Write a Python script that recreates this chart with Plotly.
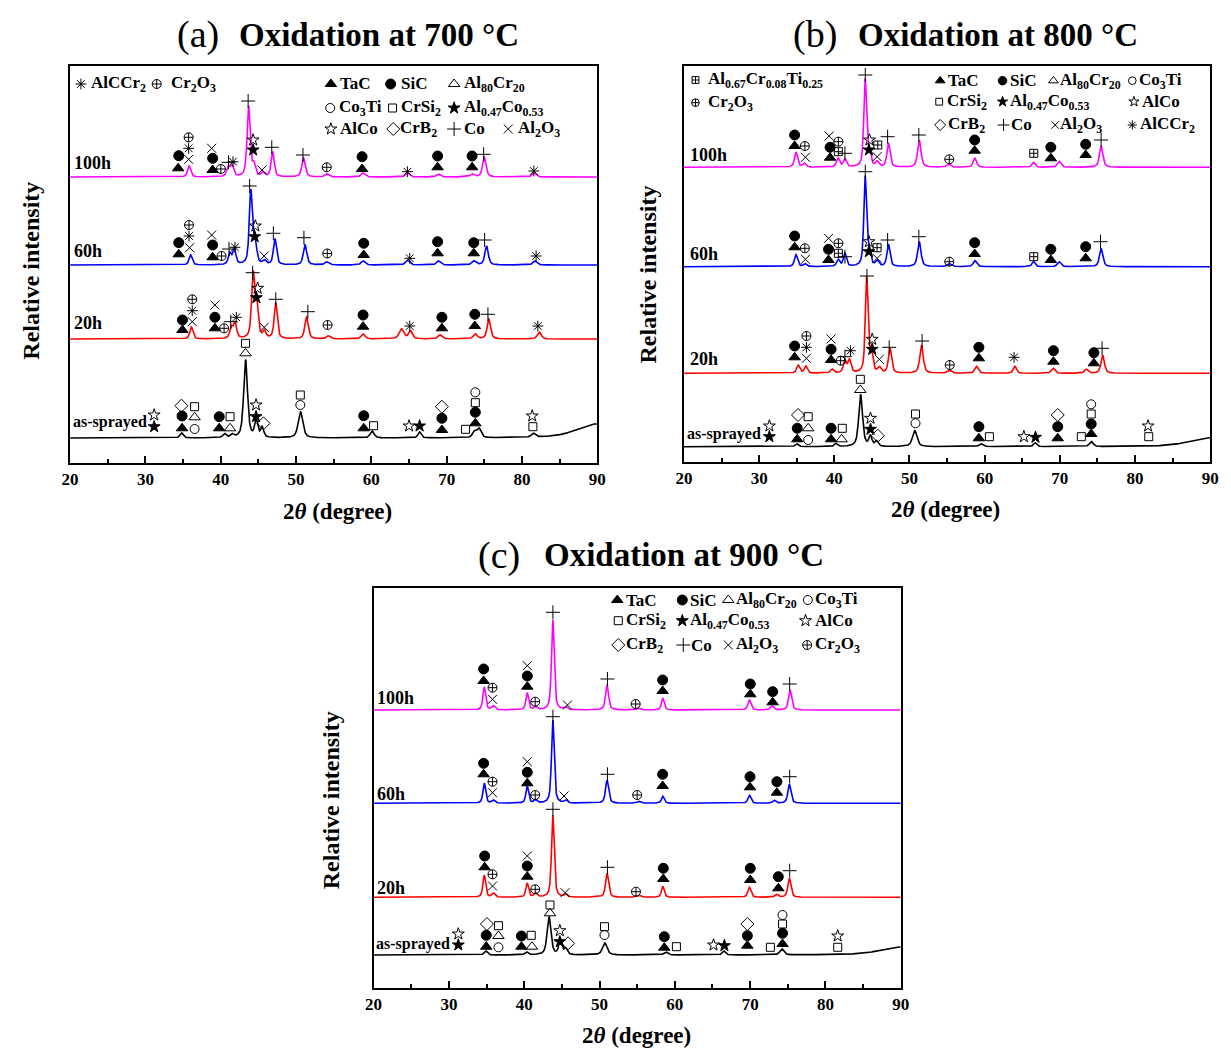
import numpy as np
import plotly.graph_objects as go

FIG_W, FIG_H = 1231, 1048
FONT = "Liberation Serif"

# ---------------- tick labels ----------------
X_TICKS = [20, 30, 40, 50, 60, 70, 80, 90]

# ================= panel (a) 700 °C =================
A_100H_BASE = 286
A_100H_PEAKS = [(35.8, 11, .4), (41.0, 10, .4), (41.5, 11, .4), (43.7, 70, .4), (44.4, 11, .4), (45.6, 4, .4),
                (46.9, 25, .4), (51.0, 19, .45), (54.1, 3, .5), (58.9, 4, .5), (64.8, 4, .5), (68.9, 3, .5),
                (73.4, 3, .5), (75.0, 20, .45), (81.6, 4, .5)]
A_100H_MARKS = [("TaC", 34.35, 294.7), ("SiC", 34.43, 307.3), ("Al2O3", 35.74, 303.7), ("AlCCr2", 35.74, 314.7),
                ("Cr2O3", 35.74, 325.7), ("Al2O3", 38.80, 314.7), ("SiC", 38.93, 304.7), ("TaC", 38.93, 293),
                ("Cr2O3", 40.02, 294), ("Co", 41.03, 300.7), ("AlCCr2", 41.63, 301.3), ("Co", 43.64, 362),
                ("AlCo", 44.30, 323), ("Al47Co53", 44.30, 313), ("Al2O3", 45.47, 293), ("Co", 46.78, 315.7),
                ("Co", 50.92, 308), ("Cr2O3", 54.08, 295.7), ("SiC", 58.77, 306.3), ("TaC", 58.77, 294),
                ("AlCCr2", 64.79, 291.3), ("SiC", 68.80, 307), ("TaC", 68.80, 295.7), ("SiC", 73.38, 307),
                ("TaC", 73.38, 295.7), ("Co", 74.91, 308.7), ("AlCCr2", 81.58, 292)]

A_60H_BASE = 198
A_60H_PEAKS = [(36.0, 10, .4), (41.2, 11, .4), (41.8, 16, .4), (44.0, 74, .4), (44.6, 19, .4), (45.8, 4, .4),
               (47.2, 26, .4), (51.2, 20, .45), (54.1, 3, .5), (58.9, 4, .5), (64.8, 5, .5), (68.9, 4, .5),
               (73.6, 4, .5), (75.3, 19, .45), (81.7, 4, .5)]
A_60H_MARKS = [("SiC", 34.43, 220.3), ("TaC", 34.43, 208.7), ("Al2O3", 35.87, 215.3), ("AlCCr2", 35.79, 227),
               ("Cr2O3", 35.79, 238), ("Al2O3", 38.80, 228), ("SiC", 38.93, 218), ("TaC", 38.93, 205.7),
               ("Cr2O3", 40.11, 207), ("Co", 41.10, 214), ("AlCCr2", 41.89, 215.7), ("Co", 43.84, 277),
               ("AlCo", 44.60, 237), ("Al47Co53", 44.51, 226.3), ("Al2O3", 45.77, 207), ("Co", 46.99, 229.7),
               ("Co", 51.05, 225.3), ("Cr2O3", 54.15, 209.5), ("SiC", 58.99, 219.7), ("TaC", 58.99, 208),
               ("AlCCr2", 65.10, 204.7), ("SiC", 68.80, 221.3), ("TaC", 68.80, 209.7), ("SiC", 73.60, 220.3),
               ("TaC", 73.60, 209.7), ("Co", 75.04, 223), ("AlCCr2", 81.88, 207)]

A_20H_BASE = 124
A_20H_PEAKS = [(36.1, 12, .4), (41.4, 11, .4), (41.9, 16, .4), (44.3, 64, .4), (44.8, 32, .4), (45.8, 7, .4),
               (47.3, 36, .4), (51.4, 22, .45), (54.3, 3, .5), (58.9, 5, .5), (64.0, 10, .6), (65.2, 8, .5),
               (69.1, 4, .5), (73.8, 5, .5), (75.6, 20, .45), (82.3, 7, .5)]
A_20H_MARKS = [("SiC", 34.92, 143), ("TaC", 34.92, 133), ("Al2O3", 36.22, 141.3), ("AlCCr2", 36.22, 152.3),
               ("Cr2O3", 36.22, 163.7), ("Al2O3", 39.23, 158), ("SiC", 39.23, 145.7), ("TaC", 39.23, 134.7),
               ("Cr2O3", 40.45, 134.7), ("Co", 41.33, 141.3), ("AlCCr2", 42.07, 145.7), ("Co", 44.24, 190.3),
               ("AlCo", 44.90, 174.7), ("Al47Co53", 44.73, 165.3), ("Al2O3", 45.77, 135.7), ("Co", 47.31, 163.7),
               ("Co", 51.57, 151.3), ("Cr2O3", 54.19, 138), ("SiC", 58.90, 148), ("TaC", 58.90, 136.3),
               ("AlCCr2", 65.10, 137), ("SiC", 69.37, 145.7), ("TaC", 69.37, 134.7), ("SiC", 73.74, 148.7),
               ("TaC", 73.74, 137), ("Co", 75.48, 148.7), ("AlCCr2", 82.11, 137)]

A_AS_BASE = 25
A_AS_PEAKS = [(34.8, 5, .4), (40.5, 4, .4), (41.5, 3, .4), (43.3, 78, .5), (44.7, 17, .4), (45.5, 10, .4),
              (50.6, 26, .6), (60.1, 7, .5), (66.4, 6, .4), (73.7, 6, .5), (74.3, 9, .5), (81.5, 4, .5),
              (89.8, 14, 5.0)]
A_AS_MARKS = [("AlCo", 31.16, 48), ("Al47Co53", 31.16, 36.3), ("CrB2", 34.78, 57.3), ("CrSi2", 36.53, 56.3),
              ("SiC", 34.87, 47), ("Al80Cr20", 36.53, 45.7), ("TaC", 34.87, 34.7), ("Co3Ti", 36.53, 34),
              ("SiC", 39.80, 46.3), ("CrSi2", 41.24, 46.3), ("TaC", 39.80, 34.7), ("Al80Cr20", 41.24, 34.7),
              ("CrSi2", 43.29, 119.7), ("Al80Cr20", 43.29, 109.7), ("AlCo", 44.69, 58), ("Al47Co53", 44.69, 46.3),
              ("CrB2", 45.68, 39.7), ("CrSi2", 50.57, 68), ("Co3Ti", 50.57, 58), ("SiC", 58.99, 47.3),
              ("TaC", 58.99, 34.7), ("CrSi2", 60.30, 37.3), ("AlCo", 65.01, 37), ("Al47Co53", 66.41, 37),
              ("CrB2", 69.37, 56.3), ("SiC", 69.37, 44.7), ("TaC", 69.37, 33), ("CrSi2", 72.51, 33.7),
              ("Co3Ti", 73.81, 70.7), ("CrSi2", 73.81, 60.3), ("SiC", 73.81, 50.7), ("TaC", 73.81, 39.7),
              ("AlCo", 81.36, 47), ("CrSi2", 81.45, 36.3)]

A_LEGEND = [("AlCCr2", 21.44, 379, 22.5, "AlCCr<sub>2</sub>"), ("Cr2O3", 31.5, 379, 33.1, "Cr<sub>2</sub>O<sub>3</sub>"),
            ("TaC", 54.63, 379, 55.6, "TaC"), ("SiC", 62.56, 379, 63.7, "SiC"),
            ("Al80Cr20", 70.99, 379, 72.0, "Al<sub>80</sub>Cr<sub>20</sub>"),
            ("Co3Ti", 54.54, 355, 55.5, "Co<sub>3</sub>Ti"), ("CrSi2", 62.82, 355, 63.7, "CrSi<sub>2</sub>"),
            ("Al47Co53", 70.99, 355, 72.0, "Al<sub>0.47</sub>Co<sub>0.53</sub>"),
            ("AlCo", 54.63, 334, 55.6, "AlCo"), ("CrB2", 62.91, 334, 63.6, "CrB<sub>2</sub>"),
            ("Co", 70.99, 334, 72.0, "Co"), ("Al2O3", 78.18, 334, 79.2, "Al<sub>2</sub>O<sub>3</sub>")]

# ================= panel (b) 800 °C =================
B_100H_BASE = 294.7
B_100H_PEAKS = [(34.9, 15, .4), (36.0, 4, .4), (40.5, 9, .4), (41.4, 8, .4), (44.1, 87, .35), (44.6, 14, .4),
                (45.7, 5, .4), (47.2, 24, .4), (51.3, 27, .45), (55.2, 3, .5), (58.7, 9, .45), (66.5, 5, .4),
                (69.9, 6, .45), (75.5, 21, .45)]
B_100H_MARKS = [("SiC", 34.72, 327), ("TaC", 34.72, 316), ("Cr2O3", 36.08, 316), ("Al2O3", 36.16, 304.7),
                ("Al2O3", 39.31, 326), ("SiC", 39.44, 314.7), ("TaC", 39.44, 304.3), ("Cr2O3", 40.54, 320.3),
                ("AlCrTi", 40.54, 310.3), ("Co", 41.41, 308.7), ("Co", 44.12, 387), ("AlCo", 44.68, 322),
                ("Al47Co53", 44.60, 312), ("AlCrTi", 45.78, 317), ("Al2O3", 45.69, 305.3), ("Co", 47.09, 325.3),
                ("Co", 51.24, 327), ("Cr2O3", 55.29, 302.7), ("SiC", 58.67, 322), ("TaC", 58.67, 311.3),
                ("AlCrTi", 66.53, 308.7), ("SiC", 68.80, 314.7), ("TaC", 68.80, 303.7), ("SiC", 73.44, 317.7),
                ("TaC", 73.44, 307), ("Co", 75.49, 322)]

B_60H_BASE = 195.3
B_60H_PEAKS = [(34.9, 12, .4), (36.1, 3, .4), (40.5, 7, .4), (41.4, 13, .4), (44.1, 89, .35), (44.6, 14, .4),
               (45.7, 5, .4), (47.2, 22, .4), (51.3, 25, .45), (55.3, 3, .5), (58.7, 6, .45), (66.5, 5, .4),
               (69.9, 5, .45), (75.5, 18, .45)]
B_60H_MARKS = [("SiC", 34.72, 226), ("TaC", 34.72, 214.7), ("Cr2O3", 36.08, 213.7), ("Al2O3", 36.16, 202.7),
               ("Al2O3", 39.23, 223.7), ("SiC", 39.23, 212.7), ("TaC", 39.23, 202), ("Cr2O3", 40.54, 218.7),
               ("AlCrTi", 40.54, 208.7), ("Co", 41.41, 205.3), ("Co", 44.12, 290.3), ("AlCo", 44.60, 220.3),
               ("Al47Co53", 44.60, 210.3), ("AlCrTi", 45.69, 214.3), ("Al2O3", 45.69, 203.7), ("Co", 47.09, 222),
               ("Co", 51.24, 225.3), ("Cr2O3", 55.29, 200.3), ("SiC", 58.67, 219.3), ("TaC", 58.67, 208),
               ("AlCrTi", 66.53, 205.3), ("SiC", 68.80, 212.7), ("TaC", 68.80, 202), ("SiC", 73.44, 215.3),
               ("TaC", 73.44, 203.7), ("Co", 75.41, 220.3)]

B_20H_BASE = 88.7
B_20H_PEAKS = [(35.2, 8, .4), (36.2, 7, .4), (39.7, 4, .4), (41.4, 12, .4), (42.0, 13, .4), (44.3, 95, .35),
               (44.9, 20, .4), (46.0, 5, .4), (47.4, 25, .4), (51.6, 28, .45), (55.3, 3, .5), (58.9, 7, .45),
               (64.0, 7, .4), (69.1, 5, .45), (73.5, 4, .45), (75.7, 18, .45)]
B_20H_MARKS = [("SiC", 34.72, 116), ("TaC", 34.72, 104.7), ("Cr2O3", 36.29, 126), ("AlCCr2", 36.29, 114.7),
               ("Al2O3", 36.29, 103.7), ("Al2O3", 39.57, 123), ("SiC", 39.57, 112.7), ("TaC", 39.57, 102),
               ("Cr2O3", 40.84, 101.3), ("Co", 41.41, 105.3), ("AlCCr2", 42.15, 111.3), ("Co", 44.34, 186),
               ("AlCo", 45.04, 122.7), ("Al47Co53", 45.04, 112.7), ("Al2O3", 45.99, 102.7), ("Co", 47.30, 114.7),
               ("Co", 51.68, 121), ("Cr2O3", 55.35, 97), ("SiC", 59.23, 114.7), ("TaC", 59.23, 103.7),
               ("AlCCr2", 63.91, 104.7), ("SiC", 69.15, 111.3), ("TaC", 69.15, 100.3), ("SiC", 74.53, 109.3),
               ("TaC", 74.53, 98.7), ("Co", 75.62, 113.7)]

B_AS_BASE = 15.3
B_AS_PEAKS = [(35.0, 3, .4), (40.2, 3, .4), (43.5, 52, .5), (44.8, 10, .4), (45.6, 5, .4), (50.7, 16, .6),
              (59.5, 3, .5), (66.7, 4, .4), (74.2, 5, .5), (89.8, 9, 5.0)]
B_AS_MARKS = [("AlCo", 31.36, 36), ("Al47Co53", 31.36, 25.3), ("CrB2", 35.17, 47), ("CrSi2", 36.52, 45.3),
              ("SiC", 35.07, 33.7), ("Al80Cr20", 36.52, 33.7), ("TaC", 35.07, 22.7), ("Co3Ti", 36.52, 22),
              ("SiC", 39.57, 33.7), ("CrSi2", 41.06, 33.7), ("TaC", 39.57, 22.7), ("Al80Cr20", 40.97, 22.7),
              ("CrSi2", 43.46, 82.7), ("Al80Cr20", 43.46, 72), ("AlCo", 44.81, 43.7), ("Al47Co53", 44.81, 32.7),
              ("CrB2", 45.78, 26.3), ("CrSi2", 50.80, 48), ("Co3Ti", 50.80, 38.7), ("SiC", 59.23, 35.3),
              ("TaC", 59.23, 23.7), ("CrSi2", 60.63, 25.3), ("AlCo", 65.22, 25.3), ("Al47Co53", 66.76, 24.7),
              ("CrB2", 69.72, 47), ("SiC", 69.72, 35.3), ("TaC", 69.72, 23.7), ("CrSi2", 72.86, 25.3),
              ("Co3Ti", 74.17, 57.7), ("CrSi2", 74.17, 48), ("SiC", 74.17, 38), ("TaC", 74.17, 28),
              ("AlCo", 81.74, 36), ("CrSi2", 81.83, 25.3)]

B_LEGEND = [("AlCrTi", 21.53, 382, 22.9, "Al<sub>0.67</sub>Cr<sub>0.08</sub>Ti<sub>0.25</sub>"),
            ("Cr2O3", 21.53, 359.3, 22.9, "Cr<sub>2</sub>O<sub>3</sub>"),
            ("TaC", 54.08, 381.3, 54.8, "TaC"), ("SiC", 62.38, 381.3, 63.1, "SiC"),
            ("Al80Cr20", 69.15, 381.3, 69.8, "Al<sub>80</sub>Cr<sub>20</sub>"),
            ("Co3Ti", 79.64, 381.3, 80.2, "Co<sub>3</sub>Ti"),
            ("CrSi2", 53.95, 360.3, 54.7, "CrSi<sub>2</sub>"),
            ("Al47Co53", 62.38, 360.3, 63.1, "Al<sub>0.47</sub>Co<sub>0.53</sub>"),
            ("AlCo", 79.86, 360.3, 80.6, "AlCo"),
            ("CrB2", 54.08, 337, 54.8, "CrB<sub>2</sub>"), ("Co", 62.51, 337, 63.2, "Co"),
            ("Al2O3", 69.38, 337, 69.8, "Al<sub>2</sub>O<sub>3</sub>"),
            ("AlCCr2", 79.64, 337, 80.4, "AlCCr<sub>2</sub>")]

# ================= panel (c) 900 °C =================
C_100H_BASE = 278
C_100H_PEAKS = [(34.7, 23, .35), (35.9, 4, .4), (40.4, 17, .35), (41.5, 3, .4), (43.8, 90, .35), (45.5, 3, .4),
                (51.0, 25, .4), (55.2, 2, .5), (58.4, 12, .35), (69.9, 10, .4), (72.9, 4, .4), (75.3, 20, .4)]
C_100H_MARKS = [("SiC", 34.61, 319), ("TaC", 34.61, 307), ("Cr2O3", 35.79, 300.3), ("Al2O3", 35.79, 288.7),
                ("Al2O3", 40.41, 322.3), ("SiC", 40.41, 312), ("TaC", 40.41, 301.3), ("Cr2O3", 41.46, 286.3),
                ("Co", 43.81, 375.7), ("Al2O3", 45.74, 283), ("Co", 51.05, 309), ("Cr2O3", 54.80, 284),
                ("SiC", 58.38, 308), ("TaC", 58.38, 297), ("SiC", 70.02, 304), ("TaC", 70.02, 293.7),
                ("SiC", 72.99, 296.3), ("TaC", 72.99, 285.7), ("Co", 75.25, 304)]

C_60H_BASE = 184.7
C_60H_PEAKS = [(34.7, 20, .35), (35.9, 3, .4), (40.4, 17, .35), (41.5, 3, .4), (43.8, 83, .35), (45.5, 3, .4),
               (51.0, 23, .4), (55.2, 2, .5), (58.4, 7, .35), (69.9, 8, .4), (73.2, 3, .4), (75.2, 19, .4)]
C_60H_MARKS = [("SiC", 34.61, 224.7), ("TaC", 34.61, 213.7), ("Cr2O3", 35.79, 206.3), ("Al2O3", 35.79, 195.3),
               ("Al2O3", 40.41, 226.3), ("SiC", 40.41, 215.7), ("TaC", 40.41, 204.7), ("Cr2O3", 41.46, 193),
               ("Co", 43.81, 271.3), ("Al2O3", 45.29, 192), ("Co", 51.05, 213.7), ("Cr2O3", 55.0, 193),
               ("SiC", 58.38, 213.7), ("TaC", 58.38, 202), ("SiC", 69.98, 211.3), ("TaC", 69.98, 200.7),
               ("SiC", 73.55, 206.3), ("TaC", 73.55, 195.3), ("Co", 75.25, 211.3)]

C_20H_BASE = 90.7
C_20H_PEAKS = [(34.7, 22, .35), (35.9, 4, .4), (40.4, 14, .35), (41.5, 4, .4), (43.8, 82, .35), (45.5, 3, .4),
               (51.0, 24, .4), (55.2, 2, .5), (58.4, 11, .35), (69.9, 10, .4), (73.5, 3, .4), (75.2, 19, .4)]
C_20H_MARKS = [("SiC", 34.75, 132), ("TaC", 34.75, 120.7), ("Cr2O3", 35.79, 113.7), ("Al2O3", 35.79, 102),
               ("Al2O3", 40.41, 132), ("SiC", 40.41, 122), ("TaC", 40.41, 111.3), ("Cr2O3", 41.46, 98.7),
               ("Co", 43.81, 178.7), ("Al2O3", 45.42, 95.3), ("Co", 51.05, 120.7), ("Cr2O3", 54.84, 96.3),
               ("SiC", 58.47, 119.7), ("TaC", 58.47, 109), ("SiC", 70.02, 119.7), ("TaC", 70.02, 108),
               ("SiC", 73.74, 111.3), ("TaC", 73.74, 99.7), ("Co", 75.25, 117.3)]

C_AS_BASE = 33
C_AS_PEAKS = [(34.9, 4, .4), (40.3, 3, .4), (43.3, 38, .5), (44.8, 15, .4), (45.5, 6, .4), (50.7, 12, .6),
              (58.8, 3, .5), (66.5, 4, .4), (74.2, 6, .5), (89.8, 8, 5.0)]
C_AS_MARKS = [("AlCo", 31.25, 54), ("Al47Co53", 31.25, 43), ("CrB2", 35.05, 64), ("CrSi2", 36.58, 62.3),
              ("SiC", 34.96, 52.7), ("Al80Cr20", 36.58, 52), ("TaC", 34.96, 41.3), ("Co3Ti", 36.58, 40.7),
              ("SiC", 39.63, 52), ("CrSi2", 40.93, 52.7), ("TaC", 39.63, 41.3), ("Al80Cr20", 41.03, 41.3),
              ("CrSi2", 43.42, 83), ("Al80Cr20", 43.42, 74.7), ("AlCo", 44.73, 57.3), ("Al47Co53", 44.73, 46.3),
              ("CrB2", 45.82, 44.7), ("CrSi2", 50.66, 61.3), ("Co3Ti", 50.66, 53), ("SiC", 58.60, 51.3),
              ("TaC", 58.60, 40.3), ("CrSi2", 60.21, 41.3), ("AlCo", 65.14, 43), ("Al47Co53", 66.58, 42.3),
              ("CrB2", 69.63, 64), ("SiC", 69.63, 52.3), ("TaC", 69.63, 42.3), ("CrSi2", 72.69, 40.7),
              ("Co3Ti", 74.30, 73), ("CrSi2", 74.30, 64), ("SiC", 74.30, 54.7), ("TaC", 74.30, 44),
              ("AlCo", 81.63, 52), ("CrSi2", 81.63, 40.7)]

C_LEGEND = [("TaC", 52.36, 388, 53.3, "TaC"), ("SiC", 60.99, 388, 61.7, "SiC"),
            ("Al80Cr20", 67.10, 388, 67.8, "Al<sub>80</sub>Cr<sub>20</sub>"),
            ("Co3Ti", 77.66, 388, 78.3, "Co<sub>3</sub>Ti"),
            ("CrSi2", 52.49, 367.3, 53.3, "CrSi<sub>2</sub>"),
            ("Al47Co53", 60.99, 367.3, 61.7, "Al<sub>0.47</sub>Co<sub>0.53</sub>"),
            ("AlCo", 77.35, 367.3, 78.3, "AlCo"),
            ("CrB2", 52.49, 343, 53.3, "CrB<sub>2</sub>"), ("Co", 61.12, 343, 61.9, "Co"),
            ("Al2O3", 67.10, 343, 67.8, "Al<sub>2</sub>O<sub>3</sub>"),
            ("Cr2O3", 77.57, 343, 78.3, "Cr<sub>2</sub>O<sub>3</sub>")]

# ---------------- series labels ----------------
SERIES_NAMES = ["100h", "60h", "20h", "as-sprayed"]
SERIES_COLORS = ["#ff00ff", "#0000ff", "#ff0000", "#000000"]

# ---------------- styles ----------------
PHASE_STYLE = {
    "TaC": ("triangle-up", 10), "SiC": ("circle", 10), "Al80Cr20": ("triangle-up-open", 10),
    "Co3Ti": ("circle-open", 9), "CrSi2": ("square-open", 8), "Al47Co53": ("star", 9),
    "AlCo": ("star-open", 9), "CrB2": ("diamond-open", 10), "Co": ("cross-thin-open", 10),
    "Al2O3": ("x-thin-open", 9), "AlCCr2": ("asterisk-open", 9), "Cr2O3": ("circle-cross-open", 9),
    "AlCrTi": ("square-cross-open", 8),
}

# pixel geometry of the three plot frames: (left, right, top, bottom)
PANELS = [
    dict(box=(62, 597, 66, 463), letter="(a)", title="Oxidation at 700 °C",
         tx=(215, 231, 35), xt=(333, 512), yt=(22, 271),
         curves=[(A_100H_BASE, A_100H_PEAKS), (A_60H_BASE, A_60H_PEAKS), (A_20H_BASE, A_20H_PEAKS), (A_AS_BASE, A_AS_PEAKS)],
         marks=[A_100H_MARKS, A_60H_MARKS, A_20H_MARKS, A_AS_MARKS], legend=A_LEGEND, lsize=1.0,
         labels=[(20.2, 300), (20.2, 212), (20.2, 140), (20.1, 41)]),
    dict(box=(685, 1219, 66, 462), letter="(b)", title="Oxidation at 800 °C",
         tx=(842, 860, 35), xt=(950, 509), yt=(648, 275),
         curves=[(B_100H_BASE, B_100H_PEAKS), (B_60H_BASE, B_60H_PEAKS), (B_20H_BASE, B_20H_PEAKS), (B_AS_BASE, B_AS_PEAKS)],
         marks=[B_100H_MARKS, B_60H_MARKS, B_20H_MARKS, B_AS_MARKS], legend=B_LEGEND, lsize=0.85,
         labels=[(20.5, 307), (20.5, 208), (20.5, 103), (20.1, 28)]),
    dict(box=(370, 905, 588, 988), letter="(c)", title="Oxidation at 900 °C",
         tx=(521, 541, 555), xt=(637, 1035), yt=(327, 800),
         curves=[(C_100H_BASE, C_100H_PEAKS), (C_60H_BASE, C_60H_PEAKS), (C_20H_BASE, C_20H_PEAKS), (C_AS_BASE, C_AS_PEAKS)],
         marks=[C_100H_MARKS, C_60H_MARKS, C_20H_MARKS, C_AS_MARKS], legend=C_LEGEND, lsize=1.0,
         labels=[(20.2, 290), (20.2, 194), (20.2, 100), (20.1, 44)]),
]

TWO_THETA = np.arange(20.0, 90.0001, 0.02)


def pattern(base, peaks):
    y = np.full_like(TWO_THETA, float(base))
    for c, h, w in peaks:
        d = (TWO_THETA - c) / (0.6 * w)
        y += h * (0.6 / (1 + d ** 2) + 0.4 * np.exp(-np.log(2) * d ** 2))
    return y


fig = go.Figure()
annotations = []
layout_axes = {}

for i, p in enumerate(PANELS):
    L, R, T, B = p["box"]
    n = "" if i == 0 else str(i + 1)
    xa, ya = "x" + n, "y" + n
    H = B - T
    layout_axes["xaxis" + n] = dict(
        domain=[L / FIG_W, R / FIG_W], range=[20, 90], anchor=ya,
        tickvals=X_TICKS, ticktext=[str(v) for v in X_TICKS], ticks="inside", ticklen=7, tickwidth=2,
        tickcolor="black", showline=True, mirror=True, linewidth=2, linecolor="black", showgrid=False,
        zeroline=False, tickfont=dict(family=FONT, size=17, color="black", weight="bold"),
        minor=dict(tickvals=[25, 35, 45, 55, 65, 75, 85], ticks="inside", ticklen=4, tickwidth=1.5, tickcolor="black"),
    )
    layout_axes["yaxis" + n] = dict(
        domain=[1 - B / FIG_H, 1 - T / FIG_H], range=[0, H], anchor=xa,
        showticklabels=False, ticks="", showline=True, mirror=True, linewidth=2, linecolor="black",
        showgrid=False, zeroline=False,
    )
    # curves
    for (base, peaks), col in zip(p["curves"], SERIES_COLORS):
        fig.add_trace(go.Scatter(x=TWO_THETA, y=pattern(base, peaks), mode="lines",
                                 line=dict(color=col, width=1.6), xaxis=xa, yaxis=ya, showlegend=False,
                                 hoverinfo="skip"))
    # markers grouped by phase
    groups = {}
    for lst in p["marks"]:
        for ph, x, y in lst:
            g = groups.setdefault(ph, ([], [], 1.0))
            g[0].append(x)
            g[1].append(y)
    for ph, x, y, tx, lab in p["legend"]:
        g = groups.setdefault("L_" + ph, ([], [], p["lsize"]))
        g[0].append(x)
        g[1].append(y)
        annotations.append(dict(x=tx, y=y, xref=xa, yref=ya, text="<b>" + lab + "</b>", showarrow=False,
                                xanchor="left", yanchor="middle",
                                font=dict(family=FONT, size=17, color="black")))
    for key, (xs, ys, sc) in groups.items():
        ph = key[2:] if key.startswith("L_") else key
        sym, size = PHASE_STYLE[ph]
        fig.add_trace(go.Scatter(x=xs, y=ys, mode="markers", xaxis=xa, yaxis=ya, showlegend=False,
                                 hoverinfo="skip",
                                 marker=dict(symbol=sym, size=size * sc, color="black",
                                             line=dict(color="black", width=1))))
    # series labels
    for (lx, ly), name in zip(p["labels"], SERIES_NAMES):
        annotations.append(dict(x=lx, y=ly, xref=xa, yref=ya, text="<b>" + name + "</b>", showarrow=False,
                                xanchor="left", yanchor="middle",
                                font=dict(family=FONT, size=18 if name != "as-sprayed" else 16, color="black")))
    # titles
    lx_r, tx_l, ty = p["tx"]
    annotations.append(dict(x=lx_r / FIG_W, y=1 - ty / FIG_H, xref="paper", yref="paper", text=p["letter"],
                            showarrow=False, xanchor="right", yanchor="middle",
                            font=dict(family=FONT, size=38, color="black")))
    annotations.append(dict(x=tx_l / FIG_W, y=1 - ty / FIG_H, xref="paper", yref="paper",
                            text="<b>" + p["title"] + "</b>", showarrow=False, xanchor="left", yanchor="middle",
                            font=dict(family=FONT, size=33, color="black")))
    # axis titles
    xx, xy = p["xt"]
    annotations.append(dict(x=xx / FIG_W, y=1 - xy / FIG_H, xref="paper", yref="paper",
                            text="<b>2<i>θ</i> (degree)</b>", showarrow=False, xanchor="center", yanchor="middle",
                            font=dict(family=FONT, size=23, color="black")))
    yx, yy = p["yt"]
    annotations.append(dict(x=yx / FIG_W, y=1 - yy / FIG_H, xref="paper", yref="paper",
                            text="<b>Relative intensity</b>", showarrow=False, textangle=-90,
                            xanchor="center", yanchor="middle",
                            font=dict(family=FONT, size=24, color="black")))

fig.update_layout(width=FIG_W, height=FIG_H, margin=dict(l=0, r=0, t=0, b=0),
                  paper_bgcolor="white", plot_bgcolor="white", showlegend=False,
                  annotations=annotations, **layout_axes)
fig.write_html("out.html")
